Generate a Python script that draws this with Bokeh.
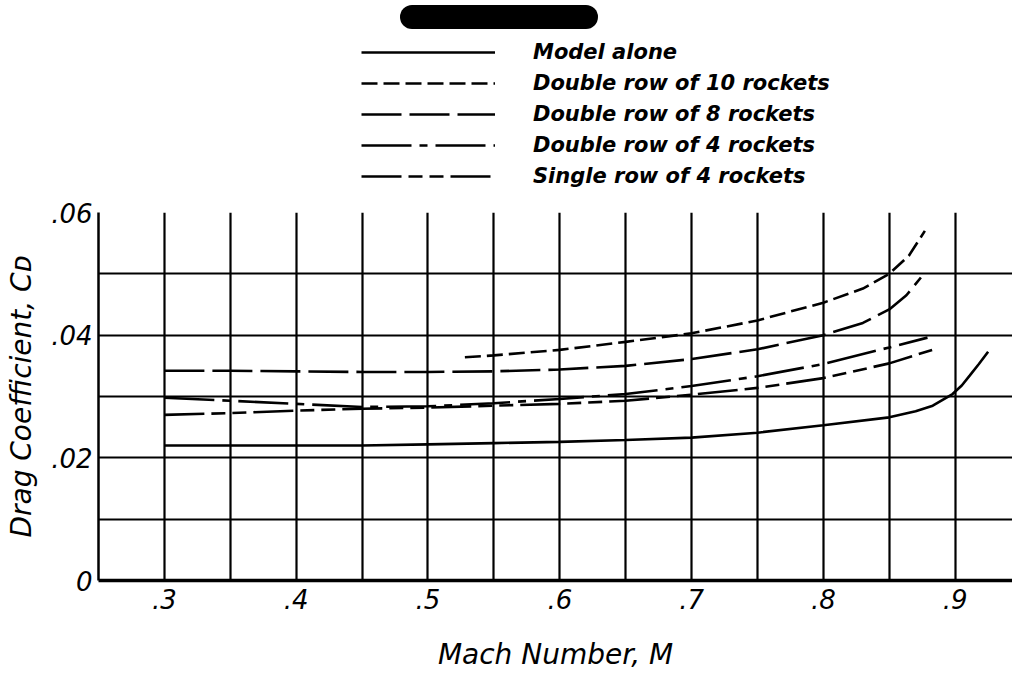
from bokeh.plotting import figure
from bokeh.models import Legend, LegendItem, FixedTicker, Range1d, Div
from bokeh.layouts import column
from bokeh.embed import file_html
from bokeh.resources import INLINE

# ---- data ----
model_alone_m = [0.30, 0.35, 0.40, 0.45, 0.50, 0.55, 0.60, 0.65, 0.70, 0.75, 0.80, 0.85, 0.87, 0.883, 0.898, 0.905, 0.911, 0.918, 0.925]
model_alone_cd = [0.0220, 0.0220, 0.0220, 0.0220, 0.0222, 0.0224, 0.0226, 0.0229, 0.0233, 0.0241, 0.0253, 0.0266, 0.0276, 0.0285, 0.0304, 0.0318, 0.0334, 0.0353, 0.0373]

d10_m = [0.528, 0.55, 0.60, 0.65, 0.70, 0.75, 0.80, 0.83, 0.85, 0.865, 0.877]
d10_cd = [0.0364, 0.0367, 0.0376, 0.0389, 0.0403, 0.0424, 0.0453, 0.0476, 0.0500, 0.0530, 0.0570]

d8_m = [0.30, 0.35, 0.40, 0.45, 0.50, 0.55, 0.60, 0.65, 0.70, 0.75, 0.80, 0.83, 0.85, 0.863, 0.874]
d8_cd = [0.0342, 0.0342, 0.0341, 0.0340, 0.0340, 0.0341, 0.0344, 0.0350, 0.0361, 0.0377, 0.0400, 0.0420, 0.0442, 0.0465, 0.0494]

d4_m = [0.30, 0.35, 0.40, 0.45, 0.50, 0.55, 0.60, 0.65, 0.70, 0.75, 0.80, 0.85, 0.879]
d4_cd = [0.0298, 0.0293, 0.0288, 0.0283, 0.0284, 0.0289, 0.0296, 0.0304, 0.0317, 0.0333, 0.0353, 0.0380, 0.0396]

s4_m = [0.30, 0.35, 0.40, 0.45, 0.50, 0.55, 0.60, 0.65, 0.70, 0.75, 0.80, 0.85, 0.884]
s4_cd = [0.0270, 0.0273, 0.0277, 0.0280, 0.0282, 0.0285, 0.0288, 0.0293, 0.0303, 0.0314, 0.0330, 0.0354, 0.0377]

series_labels = ["Model alone", "Double row of 10 rockets", "Double row of 8 rockets",
                 "Double row of 4 rockets", "Single row of 4 rockets"]
series_dashes = ["solid", "16 6", "40 8", "50 8 8 8", "40 7 14 7 14 7"]

x_tick_values = [0.3, 0.4, 0.5, 0.6, 0.7, 0.8, 0.9]
x_tick_labels = [".3", ".4", ".5", ".6", ".7", ".8", ".9"]
x_grid_values = [0.30, 0.35, 0.40, 0.45, 0.50, 0.55, 0.60, 0.65, 0.70, 0.75, 0.80, 0.85, 0.90]
y_tick_values = [0.0, 0.02, 0.04, 0.06]
y_tick_labels = ["0", ".02", ".04", ".06"]
y_grid_values = [0.01, 0.02, 0.03, 0.04, 0.05, 0.06]

FONT = "DejaVu Sans"
LW = 2.6
W = 1012
LEFT = 98

series = [(model_alone_m, model_alone_cd), (d10_m, d10_cd), (d8_m, d8_cd),
          (d4_m, d4_cd), (s4_m, s4_cd)]

# ---- main chart ----
p = figure(width=W, height=486, output_backend="svg", toolbar_location=None,
           x_range=Range1d(0.25, 0.9435), y_range=Range1d(0.0, 0.06),
           min_border_left=LEFT, min_border_right=0, min_border_top=22, min_border_bottom=96)
p.outline_line_color = None
p.background_fill_color = "white"
p.border_fill_color = "white"

p.xgrid.ticker = FixedTicker(ticks=x_grid_values)
p.ygrid.ticker = FixedTicker(ticks=y_grid_values)
for g in (p.xgrid, p.ygrid):
    g.grid_line_color = "black"
    g.grid_line_width = 2.2
    g.grid_line_alpha = 1.0

p.xaxis.ticker = FixedTicker(ticks=x_tick_values)
p.yaxis.ticker = FixedTicker(ticks=y_tick_values)
p.xaxis.major_label_overrides = {v: l for v, l in zip(x_tick_values, x_tick_labels)}
p.yaxis.major_label_overrides = {v: l for v, l in zip(y_tick_values, y_tick_labels)}
for ax in (p.xaxis, p.yaxis):
    ax.axis_line_color = "black"
    ax.major_tick_line_color = None
    ax.minor_tick_line_color = None
    ax.major_tick_in = 0
    ax.major_tick_out = 0
    ax.major_label_text_font = FONT
    ax.major_label_text_font_style = "italic"
    ax.major_label_text_font_size = "26px"
    ax.major_label_text_color = "black"
    ax.axis_label_text_font = FONT
    ax.axis_label_text_font_style = "italic"
    ax.axis_label_text_font_size = "28px"
    ax.axis_label_text_color = "black"
p.xaxis.axis_line_width = 3.5
p.yaxis.axis_line_width = 2.5
p.xaxis.major_label_standoff = 8
p.yaxis.major_label_standoff = 6
p.xaxis.axis_label = "Mach Number, M"
p.yaxis.axis_label = "Drag Coefficient, C\u1d05"
p.xaxis.axis_label_standoff = 26
p.yaxis.axis_label_standoff = 10

for (mx, cy), dash in zip(series, series_dashes):
    p.line(mx, cy, line_color="black", line_width=LW, line_dash=dash)

# ---- legend strip above the chart (its frame is aligned with the chart's frame) ----
lg = figure(width=W, height=156, output_backend="svg", toolbar_location=None,
            x_range=Range1d(0.25, 0.9435), y_range=Range1d(1.0, 2.0),
            x_axis_location=None, y_axis_location=None,
            min_border_left=LEFT, min_border_right=0, min_border_top=0, min_border_bottom=0)
lg.outline_line_color = None
lg.xgrid.visible = False
lg.ygrid.visible = False
items = []
for lab, (mx, cy), dash in zip(series_labels, series, series_dashes):
    # same series, outside this strip's y-range: only its legend sample shows
    r = lg.line(mx, cy, line_color="black", line_width=LW, line_dash=dash)
    items.append(LegendItem(label=lab, renderers=[r]))
legend = Legend(items=items, location=(263, 2), orientation="vertical",
                glyph_width=134, glyph_height=24, label_height=24, label_standoff=38,
                spacing=7, padding=0, margin=0,
                label_text_font=FONT, label_text_font_style="bold italic",
                label_text_font_size="21px", label_text_color="black",
                border_line_color=None, background_fill_alpha=0)
lg.add_layout(legend)

blob = Div(text='<div style="margin-left:395px;width:198px;height:24px;'
                'border-radius:12px;background:#000;"></div>',
           width=W, height=24)

layout = column(blob, lg, p, spacing=0)
open("out.html", "w").write(file_html(layout, INLINE))
